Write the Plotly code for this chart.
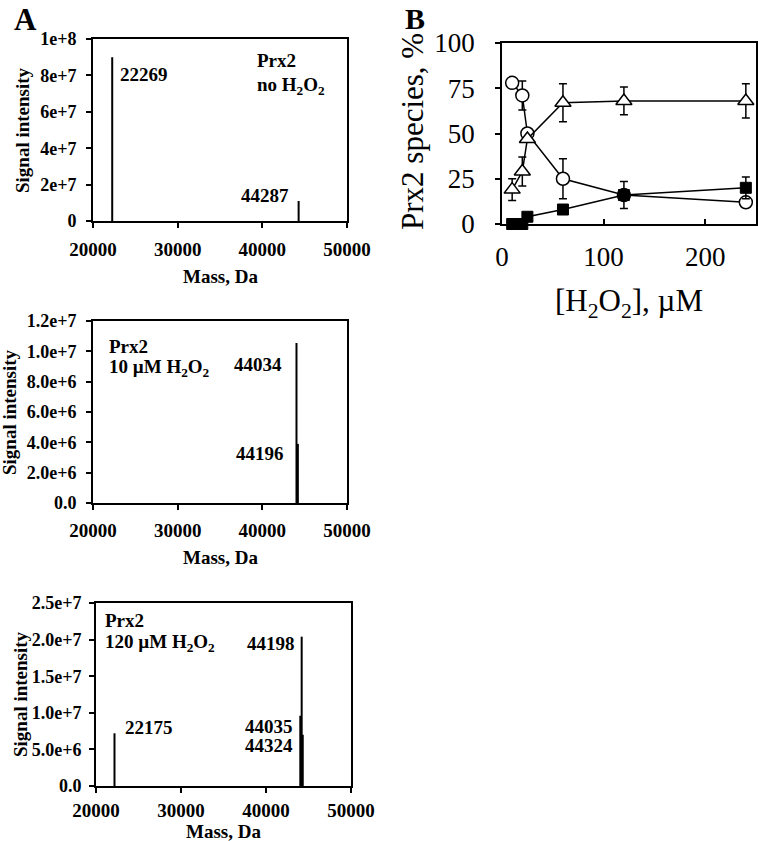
import plotly.graph_objects as go

W, H = 758, 841
SERIF = "Liberation Serif"

# ---------------- Panel A data (deconvoluted mass spectra) ----------------
a1_mass = [22269, 44287]
a1_intensity = [9.0e7, 1.1e7]
a2_mass = [44034, 44196]
a2_intensity = [1.055e7, 3.9e6]
a3_mass = [22175, 44035, 44198, 44324]
a3_intensity = [7.2e6, 9.6e6, 2.04e7, 7.0e6]

mass_ticks = [20000, 30000, 40000, 50000]
mass_ticktext = ["20000", "30000", "40000", "50000"]
a1_yticks = [0, 2e7, 4e7, 6e7, 8e7, 1e8]
a1_yticktext = ["0", "2e+7", "4e+7", "6e+7", "8e+7", "1e+8"]
a2_yticks = [0, 2e6, 4e6, 6e6, 8e6, 1e7, 1.2e7]
a2_yticktext = ["0.0", "2.0e+6", "4.0e+6", "6.0e+6", "8.0e+6", "1.0e+7", "1.2e+7"]
a3_yticks = [0, 5e6, 1e7, 1.5e7, 2e7, 2.5e7]
a3_yticktext = ["0.0", "5.0e+6", "1.0e+7", "1.5e+7", "2.0e+7", "2.5e+7"]

# ---------------- Panel B data ----------------
h2o2_uM = [10, 20, 25, 60, 120, 240]
reduced_pct = [78, 71, 50, 25, 16, 12]          # open circles
reduced_err = [0, 8, 0, 11, 0, 0]
dimer_pct = [19, 29, 47, 67, 68, 68]            # open triangles
dimer_err = [6, 8, 0, 10.5, 7.7, 9.5]
hyperox_pct = [0, 0, 4, 8, 16, 20]              # filled squares
hyperox_err = [0, 0, 0, 0, 7.5, 6]
b_xticks = [0, 100, 200]
b_yticks = [0, 25, 50, 75, 100]


def xd(l, r):
    return [l / W, r / W]


def yd(t, b):
    return [1 - b / H, 1 - t / H]


def sticks(masses, heights):
    xs, ys = [], []
    for m, h in zip(masses, heights):
        xs += [m, m, None]
        ys += [0, h, None]
    return xs, ys


fig = go.Figure()

for i, (ms, hs) in enumerate([(a1_mass, a1_intensity), (a2_mass, a2_intensity), (a3_mass, a3_intensity)]):
    xs, ys = sticks(ms, hs)
    ax = "" if i == 0 else str(i + 1)
    fig.add_trace(go.Scatter(x=xs, y=ys, mode="lines", line=dict(color="black", width=2),
                             xaxis="x" + ax, yaxis="y" + ax, showlegend=False, hoverinfo="skip"))

# Panel B traces
fig.add_trace(go.Scatter(x=h2o2_uM, y=reduced_pct, mode="lines+markers", xaxis="x4", yaxis="y4",
                         line=dict(color="black", width=1.5),
                         marker=dict(symbol="circle", size=13, color="white", line=dict(color="black", width=1.5)),
                         error_y=dict(type="data", array=reduced_err, color="black", thickness=1.5, width=4),
                         cliponaxis=False, showlegend=False))
fig.add_trace(go.Scatter(x=h2o2_uM, y=dimer_pct, mode="lines+markers", xaxis="x4", yaxis="y4",
                         line=dict(color="black", width=1.5),
                         marker=dict(symbol="triangle-up", size=14, color="white", line=dict(color="black", width=1.5)),
                         error_y=dict(type="data", array=dimer_err, color="black", thickness=1.5, width=4),
                         cliponaxis=False, showlegend=False))
fig.add_trace(go.Scatter(x=h2o2_uM, y=hyperox_pct, mode="lines+markers", xaxis="x4", yaxis="y4",
                         line=dict(color="black", width=1.5),
                         marker=dict(symbol="square", size=11, color="black", line=dict(color="black", width=1)),
                         error_y=dict(type="data", array=hyperox_err, color="black", thickness=1.5, width=4),
                         cliponaxis=False, showlegend=False))

a_xtick = dict(family=SERIF, size=19, color="black", weight="bold")
a_ytick = dict(family=SERIF, size=18, color="black", weight="bold")
common_a_x = dict(range=[20000, 50000], tickvals=mass_ticks, ticktext=mass_ticktext, showline=True,
                  mirror=True, linecolor="black", linewidth=2, ticks="outside", ticklen=5, tickwidth=2,
                  tickcolor="black", showgrid=False, zeroline=False, tickfont=a_xtick, automargin=False)
common_a_y = dict(showline=True, mirror=True, linecolor="black", linewidth=2, ticks="outside", ticklen=5,
                  tickwidth=2, tickcolor="black", showgrid=False, zeroline=False, tickfont=a_ytick,
                  automargin=False)

fig.update_layout(
    width=W, height=H, margin=dict(l=0, r=0, t=0, b=0, autoexpand=False),
    paper_bgcolor="white", plot_bgcolor="white",
    xaxis=dict(domain=xd(93, 347), anchor="y", ticklabelstandoff=5, **common_a_x),
    yaxis=dict(domain=yd(39, 221), anchor="x", range=[0, 1e8], tickvals=a1_yticks, ticktext=a1_yticktext,
               ticklabelstandoff=6, **common_a_y),
    xaxis2=dict(domain=xd(93, 347), anchor="y2", ticklabelstandoff=4, **common_a_x),
    yaxis2=dict(domain=yd(321, 503), anchor="x2", range=[0, 1.2e7], tickvals=a2_yticks, ticktext=a2_yticktext,
                ticklabelstandoff=6, **common_a_y),
    xaxis3=dict(domain=xd(96, 351), anchor="y3", ticklabelstandoff=1, **common_a_x),
    yaxis3=dict(domain=yd(603, 786), anchor="x3", range=[0, 2.5e7], tickvals=a3_yticks, ticktext=a3_yticktext,
                ticklabelstandoff=4, **common_a_y),
    xaxis4=dict(domain=xd(502, 756), anchor="y4", range=[0, 250], tickvals=b_xticks, showline=True, mirror=True,
                linecolor="black", linewidth=1.5, ticks="inside", ticklen=5, tickwidth=1.5, tickcolor="black",
                showgrid=False, zeroline=False, tickfont=dict(family=SERIF, size=27, color="black"),
                ticklabelstandoff=8, automargin=False),
    yaxis4=dict(domain=yd(43, 224), anchor="x4", range=[0, 100], tickvals=b_yticks, showline=True, mirror=True,
                linecolor="black", linewidth=1.5, ticks="outside", ticklen=5, tickwidth=1.5, tickcolor="black",
                showgrid=False, zeroline=False, tickfont=dict(family=SERIF, size=27, color="black"),
                ticklabelstandoff=15, automargin=False),
)


def txt(s, x, y, size, bold=True, xanchor="center", yanchor="middle", angle=0):
    return dict(text=s, x=x / W, y=1 - y / H, xref="paper", yref="paper", showarrow=False,
                font=dict(family=SERIF, size=size, color="black", weight="bold" if bold else "normal"),
                xanchor=xanchor, yanchor=yanchor, textangle=angle)


H2O2 = "H<sub>2</sub>O<sub>2</sub>"
ann = [
    txt("A", 25, 0, 31, yanchor="top"),
    txt("B", 415, 0, 30, yanchor="top"),
    # panel A top
    txt("Signal intensity", 23, 130, 19, angle=-90),
    txt("Mass, Da", 220, 276, 19),
    txt("22269", 144, 75, 19),
    txt("44287", 265, 196, 19),
    txt("Prx2", 255, 60, 19, xanchor="left"),
    txt("no " + H2O2, 255, 86, 19, xanchor="left"),
    # panel A middle
    txt("Signal intensity", 9, 412, 19, angle=-90),
    txt("Mass, Da", 220, 557, 19),
    txt("Prx2", 107, 346, 19, xanchor="left"),
    txt("10 µM " + H2O2, 107, 368, 19, xanchor="left"),
    txt("44034", 258, 365, 19),
    txt("44196", 260, 453, 19),
    # panel A bottom
    txt("Signal intensity", 20, 694, 19, angle=-90),
    txt("Mass, Da", 223, 831, 19),
    txt("Prx2", 103, 620, 19, xanchor="left"),
    txt("120 µM " + H2O2, 103, 643, 19, xanchor="left"),
    txt("44198", 271, 643, 19),
    txt("22175", 149, 727, 19),
    txt("44035", 269, 726, 19),
    txt("44324", 269, 745, 19),
    # panel B
    txt("Prx2 species, %", 412, 132, 31, bold=False, angle=-90),
    txt("[" + H2O2 + "], µM", 629, 303, 31, bold=False),
]
fig.update_layout(annotations=ann)

fig.write_html("out.html", config={"displayModeBar": False},
               post_script="document.body.style.margin='0px';")
